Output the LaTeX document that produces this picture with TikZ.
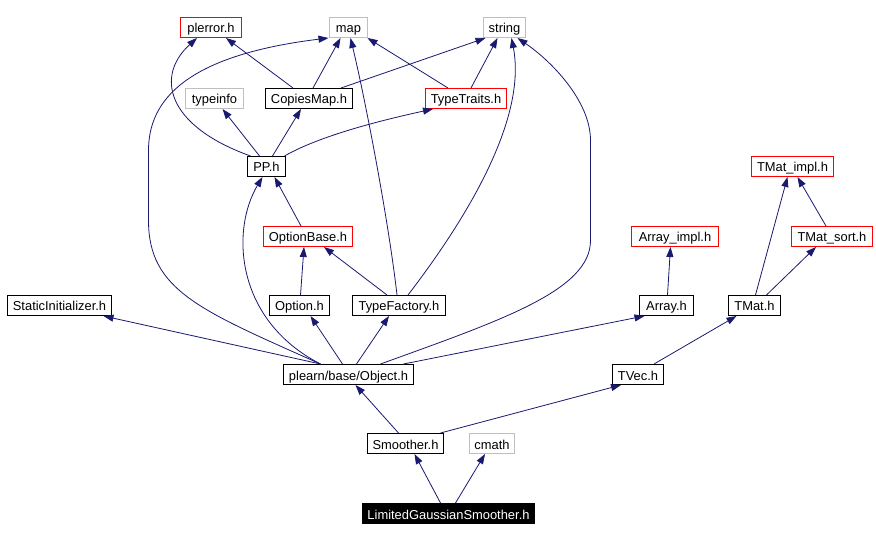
\documentclass[tikz,border=0pt]{standalone}
\usepackage{fontspec}
\setmainfont{Liberation Sans}
\usetikzlibrary{arrows.meta}
\definecolor{edgec}{HTML}{191970}
\definecolor{grayb}{HTML}{BFBFBF}
\begin{document}
\begin{tikzpicture}[x=1pt,y=-1pt, font=\fontsize{12.9}{14}\selectfont,
  box/.style={draw=black, line width=1pt, minimum height=20pt, inner sep=0pt, text height=11pt, text depth=0pt},
  gbox/.style={box, draw=grayb},
  rbox/.style={box, draw=red},
  dep/.style={draw=edgec, line width=0.8pt, -{Triangle[length=10pt,width=7pt]}}]
\fill[white] (0,0) rectangle (876,540);
\useasboundingbox (0,0) rectangle (876,540);
\begin{scope}[shift={(0.5,0.5)}]
\node[rbox, minimum width=61pt] (plerror) at (210.5,27) {plerror.h};
\node[gbox, minimum width=38pt] (map) at (348,27) {map};
\node[gbox, minimum width=42pt] (string) at (504,27) {string};
\node[gbox, minimum width=58pt] (typeinfo) at (214,98) {typeinfo};
\node[box, minimum width=87pt] (CopiesMap) at (308.5,98) {CopiesMap.h};
\node[rbox, minimum width=81pt] (TypeTraits) at (465.5,98) {TypeTraits.h};
\node[box, minimum width=38pt] (PP) at (266,166) {PP.h};
\node[rbox, minimum width=82pt] (TMatimpl) at (792,166) {TMat\_impl.h};
\node[rbox, minimum width=89pt] (OptionBase) at (307.5,236) {OptionBase.h};
\node[rbox, minimum width=87pt] (Arrayimpl) at (674.5,236) {Array\_impl.h};
\node[rbox, minimum width=81pt] (TMatsort) at (831.5,236) {TMat\_sort.h};
\node[box, minimum width=104pt] (Static) at (59,305) {StaticInitializer.h};
\node[box, minimum width=60pt] (Option) at (299,305) {Option.h};
\node[box, minimum width=93pt] (TypeFactory) at (398.5,305) {TypeFactory.h};
\node[box, minimum width=54pt] (Array) at (666,305) {Array.h};
\node[box, minimum width=52pt] (TMat) at (754,305) {TMat.h};
\node[box, minimum width=130pt] (Object) at (348,374) {plearn/base/Object.h};
\node[box, minimum width=51pt] (TVec) at (637.5,374) {TVec.h};
\node[box, minimum width=76pt] (Smoother) at (405,443) {Smoother.h};
\node[gbox, minimum width=45pt] (cmath) at (491.5,443) {cmath};
\node[box, fill=black, text=white, minimum width=172pt] (LGS) at (448,513) {LimitedGaussianSmoother.h};

\draw[dep] ([xshift=-16pt]PP.north) .. controls (165,125) and (155,75) .. ([xshift=-14pt]plerror.south);
\draw[dep] ([xshift=-7pt]PP.north) -- ([xshift=8pt]typeinfo.south);
\draw[dep] ([xshift=6pt]PP.north) -- ([xshift=-8pt]CopiesMap.south);
\draw[dep] ([xshift=18pt]PP.north) .. controls (320,135) and (380,120) .. ([xshift=-33pt]TypeTraits.south);
\draw[dep] ([xshift=-16pt]CopiesMap.north) -- ([xshift=15pt]plerror.south);
\draw[dep] ([xshift=4pt]CopiesMap.north) -- ([xshift=-8pt]map.south);
\draw[dep] ([xshift=32pt]CopiesMap.north) -- ([xshift=-19pt]string.south);
\draw[dep] ([xshift=-18pt]TypeTraits.north) -- ([xshift=19pt]map.south);
\draw[dep] ([xshift=5pt]TypeTraits.north) -- ([xshift=-7pt]string.south);
\draw[dep] ([xshift=-7pt]OptionBase.north) -- ([xshift=8pt]PP.south);
\draw[dep] ([xshift=1pt]Option.north) -- ([xshift=-4pt]OptionBase.south);
\draw[dep] ([xshift=-12pt]TypeFactory.north) -- ([xshift=16pt]OptionBase.south);
\draw[dep] ([xshift=-2pt]TypeFactory.north) .. controls (388,220) and (365,100) .. ([xshift=2pt]map.south);
\draw[dep] ([xshift=9pt]TypeFactory.north) .. controls (480,200) and (525,110) .. ([xshift=7pt]string.south);
\draw[dep] ([xshift=-28pt]Object.north) -- ([xshift=44pt]Static.south);
\draw[dep] ([xshift=-6pt]Object.north) -- ([xshift=11pt]Option.south);
\draw[dep] ([xshift=8pt]Object.north) -- ([xshift=-10pt]TypeFactory.south);
\draw[dep] ([xshift=-28pt]Object.north) .. controls (235,320) and (230,230) .. ([xshift=-4pt]PP.south);
\draw[dep] ([xshift=-28pt]Object.north) .. controls (200,310) and (148,290) .. (148,220) -- (148,150) .. controls (148,100) and (185,55) .. ([xshift=-20pt]map.south);
\draw[dep] ([xshift=32pt]Object.north) .. controls (500,320) and (590,290) .. (590,240) -- (590,140) .. controls (590,100) and (550,60) .. ([xshift=13pt]string.south);
\draw[dep] ([xshift=55pt]Object.north) -- ([xshift=-22pt]Array.south);
\draw[dep] ([xshift=1pt]Array.north) -- ([xshift=-4.5pt]Arrayimpl.south);
\draw[dep] ([xshift=16pt]TVec.north) -- ([xshift=-18pt]TMat.south);
\draw[dep] ([xshift=1pt]TMat.north) -- ([xshift=-5pt]TMatimpl.south);
\draw[dep] ([xshift=12pt]TMat.north) -- ([xshift=-16pt]TMatsort.south);
\draw[dep] ([xshift=-6pt]TMatsort.north) -- ([xshift=5pt]TMatimpl.south);
\draw[dep] ([xshift=-7pt]Smoother.north) -- ([xshift=7pt]Object.south);
\draw[dep] ([xshift=35pt]Smoother.north) -- ([xshift=-17pt]TVec.south);
\draw[dep] ([xshift=-8pt]LGS.north) -- ([xshift=9pt]Smoother.south);
\draw[dep] ([xshift=7pt]LGS.north) -- ([xshift=-7pt]cmath.south);
\end{scope}
\end{tikzpicture}
\end{document}
